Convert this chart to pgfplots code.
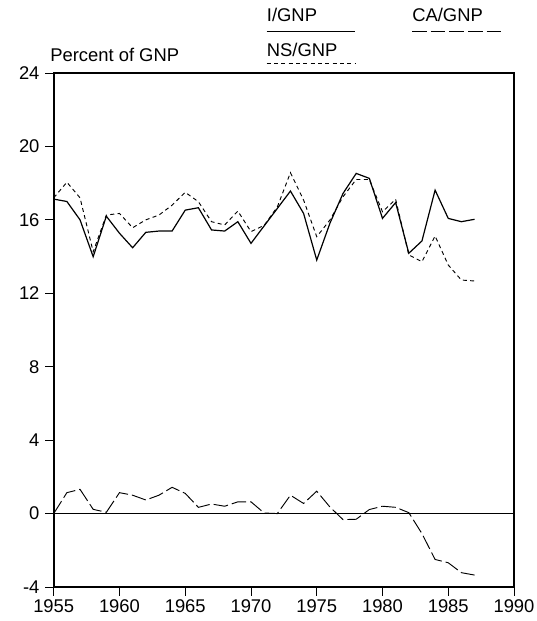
\documentclass[border=0pt]{standalone}
\usepackage{pgfplots}
\pgfplotsset{compat=1.18}
\usepackage{fontspec}
\setmainfont{Liberation Sans}
\begin{document}
\fontsize{13.8}{16}\selectfont
\begin{tikzpicture}
\useasboundingbox (0,0) rectangle (402pt,465.75pt);
\begin{axis}[
  at={(40.3pt,25.5pt)}, anchor=south west,
  scale only axis, width=345.2pt, height=385.5pt,
  xmin=1955, xmax=1990, ymin=-4, ymax=24,
  xtick={1955,1960,...,1990}, ytick={-4,0,...,24},
  xtick pos=bottom, ytick pos=left,
  tick align=outside,
  major tick length=6.5pt,
  tick style={black, line width=0.6pt},
  axis line style={line width=1.8pt},
  /pgf/number format/assume math mode=true,
  xticklabel style={/pgf/number format/1000 sep={}},
  ticklabel style={font=\fontsize{13.8}{16}\selectfont},
  every tick label/.append style={inner sep=2pt},
  xticklabel style={yshift=-0.5pt},
  yticklabel style={xshift=-2pt},
  clip=false,
]
\addplot[black, line width=0.5pt, forget plot] coordinates {(1955,0) (1990,0)};
% I/GNP
\addplot[black, line width=0.9pt] coordinates {
(1955,17.13) (1956,17.0) (1957,16.0) (1958,13.99) (1959,16.2) (1960,15.27)
(1961,14.48) (1962,15.32) (1963,15.39) (1964,15.39) (1965,16.53) (1966,16.66)
(1967,15.45) (1968,15.39) (1969,15.9) (1970,14.72) (1971,15.67) (1972,16.62)
(1973,17.57) (1974,16.35) (1975,13.81) (1976,15.81) (1977,17.44) (1978,18.53)
(1979,18.26) (1980,16.08) (1981,16.94) (1982,14.18) (1983,14.85) (1984,17.62)
(1985,16.08) (1986,15.9) (1987,16.03)};
% NS/GNP
\addplot[black, line width=0.7pt, dash pattern=on 3pt off 2.5pt] coordinates {
(1955,17.2) (1956,18.05) (1957,17.2) (1958,14.26) (1959,16.26) (1960,16.35)
(1961,15.57) (1962,16.0) (1963,16.26) (1964,16.8) (1965,17.5) (1966,16.99)
(1967,15.9) (1968,15.72) (1969,16.48) (1970,15.36) (1971,15.7) (1972,16.7)
(1973,18.57) (1974,17.08) (1975,15.08) (1976,15.99) (1977,17.26) (1978,18.2)
(1979,18.2) (1980,16.44) (1981,17.12) (1982,14.09) (1983,13.72) (1984,15.12)
(1985,13.54) (1986,12.72) (1987,12.67)};
% CA/GNP
\addplot[black, line width=0.7pt, dash pattern=on 11pt off 3pt] coordinates {
(1955,0) (1956,1.14) (1957,1.32) (1958,0.23) (1959,0.07) (1960,1.14)
(1961,1.0) (1962,0.74) (1963,1.0) (1964,1.43) (1965,1.1) (1966,0.34)
(1967,0.52) (1968,0.4) (1969,0.64) (1970,0.64) (1971,0.03) (1972,0.0)
(1973,1.0) (1974,0.55) (1975,1.22) (1976,0.36) (1977,-0.33) (1978,-0.31)
(1979,0.22) (1980,0.4) (1981,0.34) (1982,0.05) (1983,-1.09) (1984,-2.5)
(1985,-2.68) (1986,-3.22) (1987,-3.35)};
\end{axis}
% labels and legend
\node[anchor=base west, inner sep=0pt] at (37.5pt,419.25pt) {Percent of GNP};
\node[anchor=base west, inner sep=0pt] at (200pt,449.25pt) {I/GNP};
\draw[black, line width=0.7pt] (200pt,442pt) -- (266.25pt,442pt);
\node[anchor=base west, inner sep=0pt] at (200pt,423pt) {NS/GNP};
\draw[black, line width=0.6pt, dash pattern=on 3pt off 2.5pt] (200pt,418pt) -- (266.25pt,418pt);
\node[anchor=base west, inner sep=0pt] at (309pt,449.25pt) {CA/GNP};
\draw[black, line width=0.6pt, dash pattern=on 11pt off 3pt] (309pt,442pt) -- (376.5pt,442pt);
\end{tikzpicture}
\end{document}
